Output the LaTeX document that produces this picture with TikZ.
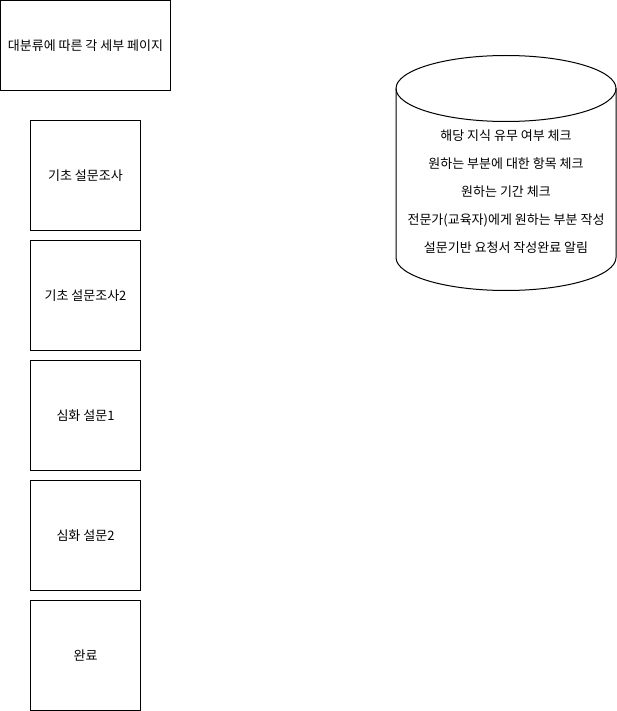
\documentclass[tikz,border=0pt]{standalone}
\usepackage{fontspec}
\setmainfont{Noto Sans CJK KR}

\begin{document}
\begin{tikzpicture}
[x=1pt,y=-1pt,
page/.style={draw,line width=1pt,minimum width=110pt,minimum height=110pt,inner sep=0pt,font=\fontsize{13}{15}\selectfont},
head/.style={page,minimum width=170pt,minimum height=90pt},
db/.style={draw,line width=1pt},
list/.style={align=center,inner sep=0pt,font=\fontsize{13}{28}\selectfont}]
\useasboundingbox (-0.5,-0.5) rectangle (615.5,710.5);
%% Pages
% header
\node[head] (main) at (85,45) {대분류에 따른 각 세부 페이지};
% survey pages
\node[page] (basic1) at (85,175) {기초 설문조사};
\node[page] (basic2) at (85,295) {기초 설문조사2};
\node[page] (deep1) at (85,415) {심화 설문1};
\node[page] (deep2) at (85,535) {심화 설문2};
\node[page] (done) at (85,655) {완료};
%%%%%%%%%%%%%%%%%%%%%%%%%%%%
%% Storage
\coordinate (top) at (505.5,88);
\coordinate (bot) at (505.5,257);
\draw[db] (top) ellipse [x radius=110, y radius=33];
\draw[db] ([xshift=-110pt]top) -- ([xshift=-110pt]bot)
  arc [start angle=180, end angle=0, x radius=110, y radius=33]
  -- ([xshift=110pt]top);
\node[list] (checks) at (505.5,191) {해당 지식 유무 여부 체크\\
원하는 부분에 대한 항목 체크\\
원하는 기간 체크\\
전문가(교육자)에게 원하는 부분 작성\\
설문기반 요청서 작성완료 알림};
%%%%%%%%%%%%%%%%%%%%%%%%%%%%
\end{tikzpicture}
\end{document}
